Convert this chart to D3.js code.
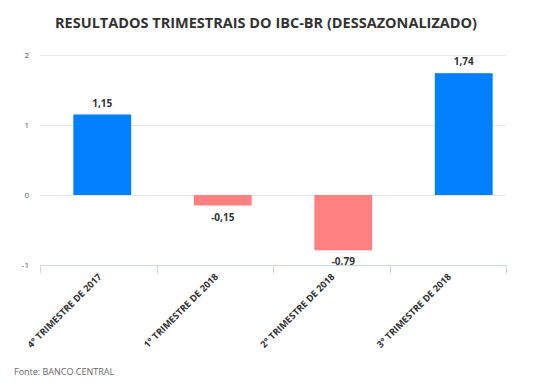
<!DOCTYPE html>
<html lang="pt">
<head>
<meta charset="UTF-8">
<title>IBC-BR</title>
<style>
  body { margin: 0; background: #fff; }
  svg { font-family: "Open Sans", sans-serif; }
  .title { font-size: 14.5px; font-weight: bold; fill: #333; text-anchor: middle; }
  .ytick { font-size: 8px; fill: #555; text-anchor: end; }
  .grid { stroke: #e6e6e6; stroke-width: 1; }
  .value { font-size: 10px; font-weight: bold; fill: #333; text-anchor: middle; }
  .xlab { font-size: 9.3px; font-weight: bold; fill: #333; text-anchor: end; }
  .source { font-size: 9px; fill: #666; }
</style>
</head>
<body>
<script src="https://d3js.org/d3.v7.min.js"></script>
<script>
const categories = ["4° TRIMESTRE DE 2017", "1° TRIMESTRE DE 2018", "2° TRIMESTRE DE 2018", "3° TRIMESTRE DE 2018"];
const values = [1.15, -0.15, -0.79, 1.74];
const yTicks = [-1, 0, 1, 2];

const width = 542, height = 391;
const plot = { left: 40, right: 506, top: 55, bottom: 265 };

const svg = d3.select("body").append("svg")
  .attr("width", width)
  .attr("height", height);

const y = d3.scaleLinear().domain([-1, 2]).range([plot.bottom, plot.top]);

// axis / label bands and bar bands are a bit offset in the original
const xAxis = d3.scaleBand().domain(categories).range([plot.left, plot.right]);
const xBar = d3.scaleBand().domain(categories).range([42, 524]).paddingInner(0.52).paddingOuter(0.26);

const fmt = d => d.toFixed(2).replace(".", ",");

svg.append("text")
  .attr("class", "title")
  .attr("x", 266)
  .attr("y", 28)
  .text("RESULTADOS TRIMESTRAIS DO IBC-BR (DESSAZONALIZADO)");

// gridlines
svg.selectAll(".grid")
  .data(yTicks.filter(d => d !== -1))
  .enter().append("line")
  .attr("class", "grid")
  .attr("x1", plot.left)
  .attr("x2", plot.right)
  .attr("y1", d => Math.round(y(d)) + 0.5)
  .attr("y2", d => Math.round(y(d)) + 0.5);

svg.selectAll(".ytick")
  .data(yTicks)
  .enter().append("text")
  .attr("class", "ytick")
  .attr("x", 29)
  .attr("y", d => y(d) + 3)
  .text(d => String(d));

// bars
svg.selectAll(".bar")
  .data(values)
  .enter().append("rect")
  .attr("class", "bar")
  .attr("x", (d, i) => xBar(categories[i]))
  .attr("width", xBar.bandwidth())
  .attr("y", d => y(Math.max(0, d)))
  .attr("height", d => Math.abs(y(d) - y(0)))
  .attr("fill", d => d >= 0 ? "#0080ff" : "#ff8080");

// value labels
svg.selectAll(".value")
  .data(values)
  .enter().append("text")
  .attr("class", "value")
  .attr("x", (d, i) => xBar(categories[i]) + xBar.bandwidth() / 2)
  .attr("y", d => d >= 0 ? y(d) - 8 : y(d) + 15)
  .text(fmt);

// x axis line and ticks
const axisY = Math.round(y(-1)) + 0.5;
svg.append("line")
  .attr("x1", plot.left).attr("x2", plot.right)
  .attr("y1", axisY).attr("y2", axisY)
  .attr("stroke", "#ccd6eb");

const tickPos = categories.map(c => xAxis(c)).concat([plot.right]);
svg.selectAll(".xtick")
  .data(tickPos)
  .enter().append("line")
  .attr("class", "xtick")
  .attr("x1", d => Math.round(d) + 0.5).attr("x2", d => Math.round(d) + 0.5)
  .attr("y1", axisY).attr("y2", axisY + 8)
  .attr("stroke", "#ccd6eb");

svg.selectAll(".xlab")
  .data(categories)
  .enter().append("text")
  .attr("class", "xlab")
  .attr("transform", d => `translate(${xAxis(d) + xAxis.bandwidth() / 2 + 4},${axisY + 12}) rotate(-45)`)
  .text(d => d);

svg.append("text")
  .attr("class", "source")
  .attr("x", 14)
  .attr("y", 375)
  .text("Fonte: BANCO CENTRAL");
</script>
</body>
</html>
